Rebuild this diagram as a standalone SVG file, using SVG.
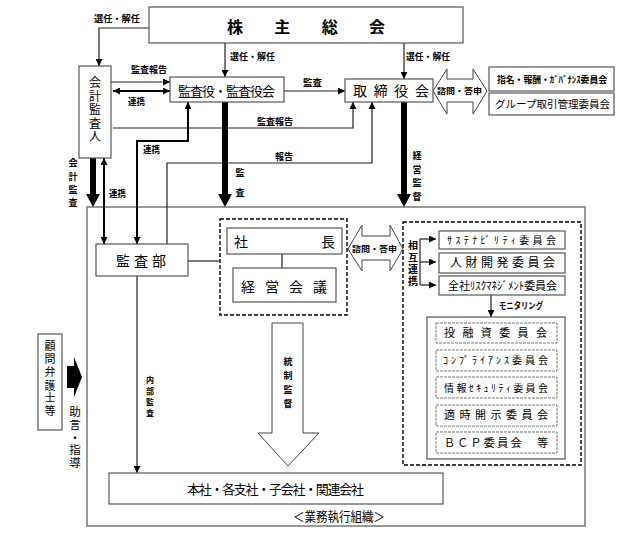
<svg xmlns="http://www.w3.org/2000/svg" width="620" height="533" viewBox="0 0 620 533">
<defs>
<style>
text{font-family:"Noto Sans CJK JP","Noto Sans",sans-serif;fill:#000}
.box{fill:#fff;stroke:#555;stroke-width:1.2}
.dbox{fill:none;stroke:#000;stroke-width:1.4;stroke-dasharray:4,2}
.ibox{fill:#fff;stroke:#777;stroke-width:1;stroke-dasharray:3,1}
.ln{fill:none;stroke:#222;stroke-width:1.2}
.ln2{fill:none;stroke:#000;stroke-width:2}
.lbl{font-size:9px;font-weight:bold}
.sm{font-size:7.5px;font-weight:bold}
.t14{font-size:14px}
.t13{font-size:13px}
.hollow{fill:#fff;stroke:#444;stroke-width:1}
.solid{fill:#000;stroke:none}
</style>
<marker id="ah" viewBox="0 0 10 10" refX="10" refY="5" markerWidth="7" markerHeight="7" markerUnits="userSpaceOnUse" orient="auto-start-reverse"><path d="M0,0 L10,5 L0,10 z" fill="#000"/></marker>
</defs>
<rect width="620" height="533" fill="#fff"/>

<!-- outer execution organization frame -->
<g id="gyomu">
<rect x="87" y="207" width="498" height="319" fill="none" stroke="#777" stroke-width="1.5"/>
<text x="293" y="521" class="t13" textLength="92" lengthAdjust="spacingAndGlyphs">＜業務執行組織＞</text>
</g>

<g id="connectors">
<path class="ln" d="M149,28 H99 V66" marker-end="url(#ah)"/>
<path class="ln" d="M225,43 V77" marker-end="url(#ah)"/>
<path class="ln" d="M404,43 V79" marker-end="url(#ah)"/>
<path class="ln" d="M111,82 H170" marker-end="url(#ah)"/>
<path class="ln2" d="M113,91 H170" marker-start="url(#ah)" marker-end="url(#ah)"/>
<path class="ln" d="M284,91 H345" marker-end="url(#ah)"/>
<path class="ln" d="M113,128 H353 V102" marker-end="url(#ah)"/>
<path class="ln" d="M167,244 V163 H372 V102" marker-end="url(#ah)"/>
<path class="ln2" d="M188,102 V141 H137 V244" marker-start="url(#ah)" marker-end="url(#ah)"/>
<path class="ln2" d="M104,158 V244" marker-start="url(#ah)" marker-end="url(#ah)"/>
<polygon class="solid" points="90,158 96,158 96,194 100,194 93,207 86,194 90,194"/>
<polygon class="solid" points="222,102 228,102 228,194 232,194 225,207 218,194 222,194"/>
<polygon class="solid" points="401,102 407,102 407,194 411,194 404,207 397,194 401,194"/>
<path class="ln" d="M188,261 H219"/>
<path class="ln" d="M282,254 V268"/>
<polygon class="hollow" points="433,91 447,69 447,79 473,79 473,69 487,91 473,114 473,102 447,102 447,114"/>
<polygon class="hollow" points="348,249 362,225 362,236 390,236 390,225 403,249 390,271 390,260 362,260 362,271"/>
<path class="ln" d="M420,239 H436" marker-end="url(#ah)"/>
<path class="ln" d="M420,262 H436" marker-end="url(#ah)"/>
<path class="ln" d="M420,285 H436" marker-end="url(#ah)"/>
<path class="ln" d="M420,239 V285"/>
<path class="ln" d="M491,295 V317" marker-end="url(#ah)"/>
<path class="ln" d="M137,276 V473" marker-end="url(#ah)"/>
<polygon class="hollow" points="272,323 303,323 303,433 319,433 288,466 258,433 272,433"/>
<polygon class="solid" points="67,366 74,366 74,357 82,377 74,397 74,388 67,388"/>

<text class="lbl" x="94" y="22" textLength="46" lengthAdjust="spacingAndGlyphs">選任・解任</text>
<text class="lbl" x="230" y="60" textLength="45" lengthAdjust="spacingAndGlyphs">選任・解任</text>
<text class="lbl" x="406" y="60" textLength="44" lengthAdjust="spacingAndGlyphs">選任・解任</text>
<text class="lbl" x="131" y="73" textLength="36" lengthAdjust="spacingAndGlyphs">監査報告</text>
<text class="lbl" x="128" y="105" textLength="17" lengthAdjust="spacingAndGlyphs">連携</text>
<text class="lbl" x="303" y="86" textLength="19" lengthAdjust="spacingAndGlyphs">監査</text>
<text class="lbl" x="257" y="125" textLength="36" lengthAdjust="spacingAndGlyphs">監査報告</text>
<text class="lbl" x="275" y="160" textLength="18" lengthAdjust="spacingAndGlyphs">報告</text>
<text class="lbl" x="143" y="153" textLength="17" lengthAdjust="spacingAndGlyphs">連携</text>
<text class="lbl" x="109" y="197" textLength="17" lengthAdjust="spacingAndGlyphs">連携</text>
<text class="lbl" text-anchor="middle"><tspan x="73" y="166">会</tspan><tspan x="73" y="180">計</tspan><tspan x="73" y="193">監</tspan><tspan x="73" y="206">査</tspan></text>
<text class="lbl" text-anchor="middle"><tspan x="240" y="176">監</tspan><tspan x="240" y="196">査</tspan></text>
<text class="lbl" text-anchor="middle"><tspan x="417" y="159">経</tspan><tspan x="417" y="173">営</tspan><tspan x="417" y="186">監</tspan><tspan x="417" y="200">督</tspan></text>
<text class="sm" x="437" y="94" textLength="45" lengthAdjust="spacingAndGlyphs">諮問・答申</text>
<text class="sm" x="352" y="252" textLength="45" lengthAdjust="spacingAndGlyphs">諮問・答申</text>
<text style="font-size:10px;font-weight:bold" text-anchor="middle"><tspan x="413" y="249">相</tspan><tspan x="413" y="261">互</tspan><tspan x="413" y="273">連</tspan><tspan x="413" y="285">携</tspan></text>
<text class="lbl" x="499" y="309" textLength="44" lengthAdjust="spacingAndGlyphs">モニタリング</text>
<text style="font-size:8px;font-weight:bold" text-anchor="middle"><tspan x="150" y="383">内</tspan><tspan x="150" y="394">部</tspan><tspan x="150" y="405">監</tspan><tspan x="150" y="416">査</tspan></text>
<text class="lbl" text-anchor="middle"><tspan x="288" y="365">統</tspan><tspan x="288" y="379">制</tspan><tspan x="288" y="393">監</tspan><tspan x="288" y="407">督</tspan></text>
<text style="font-size:11.5px" text-anchor="middle"><tspan x="75" y="416">助</tspan><tspan x="75" y="429">言</tspan><tspan x="75" y="442">・</tspan><tspan x="75" y="454">指</tspan><tspan x="75" y="467">導</tspan></text>
</g>

<g id="kabunushi">
<rect class="box" x="149" y="7" width="314" height="36"/>
<text x="227" y="33" style="font-size:16px;font-weight:bold" textLength="158" lengthAdjust="spacing">株主総会</text>
</g>

<g id="kaikei">
<rect class="box" x="79" y="66" width="32" height="92"/>
<text style="font-size:12px" text-anchor="middle"><tspan x="95" y="87">会</tspan><tspan x="95" y="101">計</tspan><tspan x="95" y="114">監</tspan><tspan x="95" y="128">査</tspan><tspan x="95" y="141">人</tspan></text>
</g>

<g id="kansayaku">
<rect class="box" x="170" y="77" width="114" height="25"/>
<text x="178" y="96" class="t13" textLength="97" lengthAdjust="spacing">監査役・監査役会</text>
</g>

<g id="torishimariyaku">
<rect class="box" x="345" y="79" width="88" height="23"/>
<text x="353" y="96" class="t14" textLength="76" lengthAdjust="spacing">取締役会</text>
</g>

<g id="shimei">
<rect class="box" x="489" y="67" width="125" height="24"/>
<text x="497" y="83" style="font-size:9.5px;font-weight:bold" textLength="110" lengthAdjust="spacingAndGlyphs">指名・報酬・ｶﾞﾊﾞﾅﾝｽ委員会</text>
</g>

<g id="group">
<rect class="box" x="489" y="93" width="125" height="22"/>
<text x="495" y="108" style="font-size:10.5px" textLength="115" lengthAdjust="spacingAndGlyphs">グループ取引管理委員会</text>
</g>

<g id="kansabu">
<rect class="box" x="96" y="244" width="92" height="32"/>
<text x="116" y="266" class="t14" textLength="50" lengthAdjust="spacing">監査部</text>
</g>

<g id="shacho-group">
<rect class="dbox" x="220" y="219" width="127" height="96"/>
</g>

<g id="shacho">
<rect class="box" x="227" y="228" width="115" height="26"/>
<text x="241" y="247" class="t14" text-anchor="middle">社</text>
<text x="328" y="247" class="t14" text-anchor="middle">長</text>
</g>

<g id="keiei">
<rect class="box" x="233" y="268" width="103" height="34"/>
<text x="241" y="292" class="t14" textLength="86" lengthAdjust="spacing">経営会議</text>
</g>

<g id="iinkai-group">
<rect class="dbox" x="403" y="222" width="178" height="243"/>
</g>

<g id="sustainability">
<rect class="box" x="439" y="231" width="126" height="18"/>
<text x="447" y="244" style="font-size:10px" textLength="109" lengthAdjust="spacing">ｻｽﾃﾅﾋﾞﾘﾃｨ委員会</text>
</g>

<g id="jinzai">
<rect class="box" x="439" y="253" width="126" height="20"/>
<text x="450" y="267" style="font-size:12px" textLength="105" lengthAdjust="spacing">人財開発委員会</text>
</g>

<g id="risk">
<rect class="box" x="439" y="276" width="126" height="19"/>
<text x="448" y="290" style="font-size:11px" textLength="109" lengthAdjust="spacing">全社ﾘｽｸﾏﾈｼﾞﾒﾝﾄ委員会</text>
</g>

<g id="monitor-group">
<rect class="box" x="427" y="317" width="138" height="142"/>
</g>

<g id="toyushi">
<rect class="ibox" x="436" y="323" width="121" height="20"/>
<text x="444" y="337" style="font-size:11px" textLength="103" lengthAdjust="spacing">投融資委員会</text>
</g>

<g id="compliance">
<rect class="ibox" x="436" y="350" width="121" height="21"/>
<text x="443" y="364" style="font-size:10px" textLength="105" lengthAdjust="spacing">ｺﾝﾌﾟﾗｲｱﾝｽ委員会</text>
</g>

<g id="security">
<rect class="ibox" x="436" y="377" width="121" height="21"/>
<text x="444" y="392" style="font-size:10px" textLength="104" lengthAdjust="spacing">情報ｾｷｭﾘﾃｨ委員会</text>
</g>

<g id="tekiji">
<rect class="ibox" x="436" y="405" width="121" height="21"/>
<text x="444" y="419" style="font-size:11px" textLength="104" lengthAdjust="spacing">適時開示委員会</text>
</g>

<g id="bcp">
<rect class="ibox" x="436" y="432" width="121" height="21"/>
<text x="444" y="447" style="font-size:11px" textLength="104" lengthAdjust="spacing">ＢＣＰ委員会　等</text>
</g>

<g id="honsha">
<rect class="box" x="109" y="473" width="334" height="31"/>
<text x="187" y="494" class="t13" textLength="177" lengthAdjust="spacing">本社・各支社・子会社・関連会社</text>
</g>

<g id="komon">
<rect class="box" x="38" y="334" width="24" height="96"/>
<text style="font-size:11px" text-anchor="middle"><tspan x="50" y="350">顧</tspan><tspan x="50" y="363">問</tspan><tspan x="50" y="376">弁</tspan><tspan x="50" y="390">護</tspan><tspan x="50" y="402">士</tspan><tspan x="50" y="415">等</tspan></text>
</g>
</svg>
